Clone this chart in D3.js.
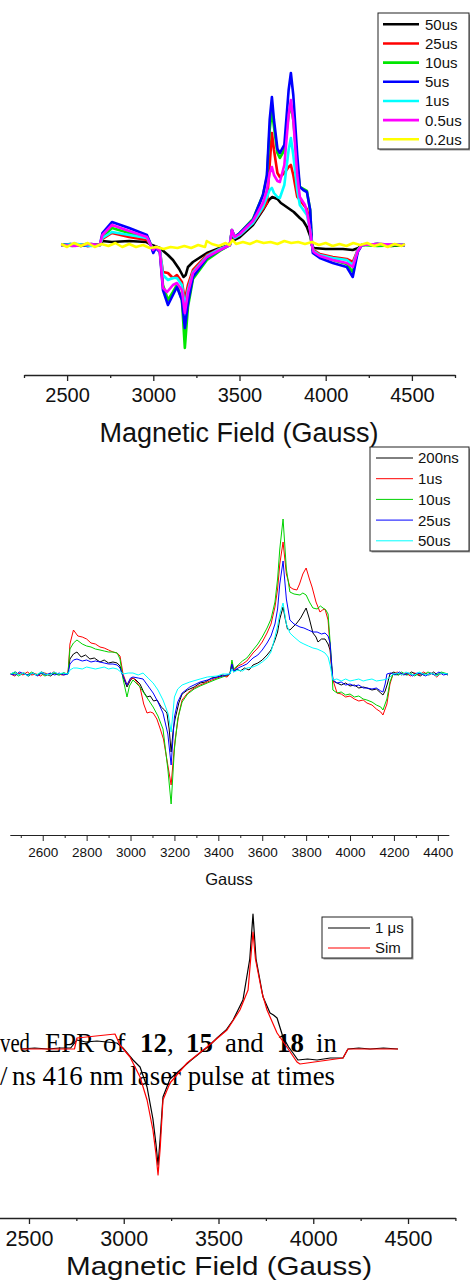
<!DOCTYPE html>
<html>
<head>
<meta charset="utf-8">
<script src="https://cdn.jsdelivr.net/npm/d3@7"></script>
<style>
  body { margin: 0; background: #fff; }
  svg { display: block; }
  text { font-family: "Liberation Sans", Arial, sans-serif; }
</style>
</head>
<body>
<div id="fig"></div>
<script>
// ---------------- data: panel 1 (Magnetic Field, 7 delays) ----------------
const p1Labels = ["50us", "25us", "10us", "5us", "1us", "0.5us", "0.2us"];
const p1Colors = ["#000000", "#ff0000", "#00e600", "#0000ff", "#00ffff", "#ff00ff", "#ffff00"];
const p1Ticks = [2500, 3000, 3500, 4000, 4500];

const p1_50us = [[2465,0],[2520,1],[2580,-1],[2640,1],[2690,0],[2705,4],[2760,3],[2860,4],[2960,3],[2992,0],[3038,-3],[3085,-10],[3114,-15],[3150,-24],[3175,-32],[3188,-30],[3201,-22],[3230,-17],[3311,-8],[3386,-3],[3444,0],[3456,12],[3470,5],[3502,8],[3578,20],[3636,35],[3670,45],[3690,48],[3720,46],[3740,42],[3757,40],[3790,36],[3815,33],[3850,27],[3870,24],[3891,18],[3912,8],[3920,0],[3930,-3],[4000,-4],[4100,-4],[4157,-5],[4190,-3],[4209,0],[4300,1],[4380,-1],[4460,0]];
const p1_25us = [[2465,0],[2540,1],[2620,-1],[2690,0],[2705,6],[2760,12],[2860,8],[2963,5],[2985,0],[2998,-5],[3015,-2],[3038,-6],[3056,-27],[3085,-28],[3114,-33],[3137,-30],[3166,-37],[3183,-55],[3201,-40],[3230,-25],[3311,-10],[3386,-4],[3444,0],[3456,14],[3472,7],[3502,10],[3578,22],[3636,36],[3659,42],[3675,80],[3688,112],[3700,95],[3720,72],[3734,68],[3760,72],[3785,78],[3798,80],[3812,70],[3835,48],[3850,45],[3891,36],[3910,20],[3920,0],[3930,-5],[3966,-9],[4041,-12],[4122,-14],[4157,-17],[4186,-5],[4209,0],[4300,1],[4460,0]];
const p1_10us = [[2465,0],[2530,-1],[2610,1],[2690,0],[2705,8],[2760,17],[2860,12],[2963,8],[2985,1],[2998,-6],[3015,-2],[3038,-6],[3056,-40],[3085,-55],[3114,-47],[3137,-40],[3166,-55],[3183,-103],[3201,-62],[3230,-34],[3311,-15],[3386,-6],[3444,0],[3456,15],[3472,8],[3502,12],[3578,26],[3636,50],[3659,68],[3675,115],[3688,135],[3700,118],[3720,92],[3734,87],[3760,95],[3785,130],[3798,140],[3812,125],[3835,80],[3850,58],[3891,54],[3910,35],[3920,2],[3930,-8],[3966,-11],[4041,-15],[4122,-19],[4157,-27],[4186,-6],[4209,0],[4300,-1],[4460,0]];
const p1_5us = [[2465,0],[2550,1],[2620,-1],[2690,0],[2705,12],[2760,23],[2860,17],[2963,10],[2980,3],[2992,-4],[3000,-8],[3015,-3],[3038,-7],[3056,-45],[3085,-60],[3114,-50],[3137,-42],[3166,-55],[3183,-83],[3201,-58],[3230,-32],[3311,-13],[3386,-5],[3444,0],[3456,15],[3472,8],[3502,12],[3578,25],[3636,50],[3659,70],[3675,125],[3688,148],[3700,125],[3720,96],[3734,92],[3760,100],[3785,155],[3798,172],[3812,150],[3835,90],[3850,58],[3870,55],[3891,53],[3910,35],[3920,2],[3925,-8],[3966,-13],[4041,-18],[4122,-22],[4157,-32],[4186,-7],[4209,0],[4300,1],[4460,0]];
const p1_1us = [[2465,0],[2560,1],[2640,-1],[2690,0],[2705,7],[2760,13],[2860,10],[2963,7],[2985,0],[2998,-4],[3015,-2],[3038,-5],[3056,-30],[3085,-35],[3114,-33],[3137,-33],[3166,-40],[3183,-62],[3201,-45],[3230,-27],[3311,-11],[3386,-4],[3444,0],[3456,14],[3472,7],[3502,10],[3578,22],[3636,38],[3659,48],[3675,55],[3688,57],[3700,52],[3720,48],[3734,47],[3760,60],[3785,95],[3798,107],[3812,90],[3835,55],[3850,40],[3891,30],[3910,15],[3920,0],[3930,-6],[3966,-10],[4041,-13],[4122,-15],[4157,-20],[4186,-5],[4209,0],[4300,1],[4460,0]];
const p1_05us = [[2465,0],[2545,-1],[2630,1],[2690,0],[2705,10],[2760,20],[2860,14],[2963,8],[2985,0],[2998,-5],[3015,-2],[3038,-6],[3056,-43],[3080,-47],[3114,-40],[3137,-38],[3166,-45],[3183,-68],[3201,-48],[3230,-28],[3311,-12],[3386,-5],[3444,0],[3456,15],[3472,8],[3502,11],[3578,24],[3636,42],[3659,55],[3675,72],[3688,78],[3700,70],[3720,64],[3734,63],[3760,80],[3785,130],[3798,145],[3812,125],[3835,70],[3850,48],[3880,40],[3895,30],[3912,12],[3920,0],[3930,-7],[3966,-11],[4041,-15],[4122,-18],[4157,-22],[4186,-6],[4209,0],[4300,1],[4460,0]];
const p1_02us = [[2465,1],[2500,-2],[2540,2],[2580,-1],[2620,2],[2660,-2],[2700,1],[2740,-1],[2780,2],[2820,-2],[2860,1],[2900,-2],[2940,0],[2980,-3],[3020,-2],[3060,-4],[3100,-2],[3140,-3],[3180,-1],[3220,-3],[3260,0],[3300,-2],[3310,4],[3340,1],[3380,-1],[3420,2],[3440,0],[3460,5],[3480,1],[3520,3],[3560,1],[3600,4],[3640,2],[3680,3],[3720,1],[3760,4],[3800,2],[3840,3],[3880,1],[3920,3],[3960,0],[4000,2],[4040,-1],[4080,1],[4120,-1],[4160,2],[4200,0],[4240,2],[4280,-1],[4320,1],[4360,-2],[4400,1],[4440,-1],[4460,1]];

// ---------------- data: panel 2 (Gauss, 5 delays) ----------------
const p2Labels = ["200ns", "1us", "10us", "25us", "50us"];
const p2Colors = ["#000000", "#ff0000", "#00d200", "#0000ff", "#00ffff"];
const p2Ticks = [2600, 2800, 3000, 3200, 3400, 3600, 3800, 4000, 4200, 4400];

const p2_200ns = [[2454,0],[2475,2],[2495,-1],[2515,1],[2535,-2],[2555,1],[2575,-1],[2595,2],[2615,0],[2635,-2],[2655,1],[2675,-1],[2695,1],[2715,0],[2724,15],[2740,20],[2756,22],[2775,17],[2795,19],[2815,15],[2835,16],[2861,12],[2880,14],[2900,11],[2920,12],[2939,11],[2952,8],[2966,-3],[2984,-13],[3000,-6],[3011,-4],[3025,-6],[3043,-10],[3060,-18],[3075,-23],[3090,-22],[3105,-27],[3121,-26],[3140,-33],[3155,-36],[3166,-39],[3176,-55],[3185,-78],[3195,-55],[3203,-45],[3220,-29],[3235,-20],[3260,-16],[3290,-13],[3317,-9],[3340,-8],[3370,-4],[3394,-3],[3420,-1],[3440,-2],[3453,0],[3462,10],[3470,2],[3485,5],[3500,3],[3520,6],[3540,4],[3558,9],[3580,11],[3600,14],[3622,19],[3640,24],[3658,34],[3670,42],[3680,55],[3695,67],[3705,55],[3715,45],[3726,44],[3740,47],[3758,51],[3775,56],[3785,60],[3800,66],[3815,55],[3831,41],[3845,37],[3854,32],[3870,35],[3886,35],[3900,30],[3909,24],[3922,-7],[3941,-9],[3960,-11],[3980,-9],[4000,-12],[4020,-11],[4040,-14],[4060,-13],[4077,-14],[4100,-16],[4120,-15],[4140,-19],[4150,-21],[4160,-17],[4170,-10],[4182,0],[4200,2],[4220,-1],[4240,1],[4260,-1],[4280,2],[4300,0],[4320,-2],[4340,1],[4360,-1],[4380,2],[4400,-1],[4420,1],[4446,-1]];
const p2_1us = [[2454,0],[2472,-2],[2490,1],[2510,-1],[2530,2],[2550,-1],[2570,0],[2590,-2],[2610,1],[2630,-1],[2650,2],[2670,0],[2690,-1],[2715,0],[2724,30],[2740,44],[2760,38],[2780,37],[2800,35],[2820,31],[2840,30],[2861,27],[2880,26],[2900,24],[2920,22],[2939,21],[2952,18],[2966,0],[2984,-11],[3000,-5],[3011,-4],[3025,-7],[3043,-13],[3060,-30],[3075,-39],[3090,-38],[3103,-39],[3120,-45],[3134,-54],[3150,-65],[3166,-86],[3185,-111],[3195,-85],[3203,-66],[3220,-40],[3235,-26],[3260,-19],[3290,-14],[3317,-11],[3340,-9],[3370,-6],[3394,-4],[3420,-2],[3440,-3],[3453,0],[3462,12],[3470,4],[3490,8],[3510,10],[3530,13],[3558,21],[3580,26],[3600,32],[3622,41],[3640,50],[3658,67],[3670,85],[3680,110],[3695,132],[3710,100],[3726,87],[3740,85],[3758,84],[3770,90],[3785,100],[3800,106],[3815,95],[3827,87],[3845,72],[3863,62],[3875,64],[3886,65],[3900,54],[3915,10],[3922,-6],[3941,-19],[3960,-20],[3980,-23],[4000,-22],[4020,-25],[4040,-27],[4060,-26],[4077,-29],[4100,-31],[4120,-35],[4140,-38],[4150,-41],[4168,-30],[4182,-10],[4196,0],[4215,2],[4235,-1],[4255,1],[4275,-2],[4295,1],[4315,-1],[4335,2],[4355,-1],[4375,1],[4395,-3],[4415,1],[4446,0]];
const p2_10us = [[2454,0],[2470,1],[2490,-2],[2510,1],[2530,-1],[2550,2],[2570,-1],[2590,1],[2610,-2],[2630,0],[2650,1],[2670,-1],[2695,1],[2715,0],[2724,25],[2740,31],[2756,34],[2780,30],[2800,28],[2820,27],[2840,25],[2861,24],[2880,23],[2900,22],[2920,22],[2939,21],[2952,15],[2966,-5],[2984,-23],[2995,-12],[3011,-6],[3025,-9],[3043,-13],[3070,-22],[3103,-33],[3125,-42],[3148,-55],[3170,-95],[3185,-130],[3200,-75],[3215,-45],[3235,-28],[3260,-20],[3290,-15],[3317,-12],[3350,-9],[3394,-5],[3420,-3],[3453,0],[3462,14],[3470,5],[3490,9],[3510,13],[3530,16],[3558,24],[3580,30],[3600,37],[3622,46],[3640,55],[3658,72],[3670,95],[3680,125],[3695,155],[3710,105],[3726,82],[3745,80],[3772,79],[3785,81],[3800,79],[3815,72],[3831,66],[3850,65],[3865,68],[3877,66],[3890,64],[3900,60],[3915,15],[3922,-16],[3941,-19],[3960,-18],[3980,-21],[4000,-20],[4020,-23],[4040,-22],[4060,-25],[4077,-26],[4100,-28],[4120,-31],[4140,-33],[4150,-36],[4168,-25],[4182,-8],[4196,0],[4215,-1],[4235,2],[4255,-1],[4275,1],[4295,-2],[4315,1],[4335,-1],[4355,2],[4375,0],[4395,-1],[4415,2],[4446,0]];
const p2_25us = [[2454,0],[2475,-1],[2495,2],[2515,0],[2535,-1],[2555,1],[2575,-2],[2595,1],[2615,-1],[2635,1],[2655,-1],[2675,1],[2695,-1],[2715,0],[2724,10],[2740,14],[2756,15],[2780,13],[2800,14],[2820,12],[2840,13],[2861,12],[2880,11],[2900,10],[2920,10],[2939,9],[2952,6],[2966,-2],[2984,-11],[3000,-4],[3011,-3],[3035,-4],[3057,-5],[3080,-12],[3103,-19],[3125,-28],[3148,-39],[3170,-60],[3185,-91],[3200,-43],[3215,-28],[3235,-19],[3270,-13],[3317,-8],[3350,-6],[3394,-3],[3420,-2],[3453,0],[3462,10],[3470,3],[3490,6],[3510,8],[3530,10],[3558,16],[3580,19],[3600,24],[3622,31],[3640,38],[3658,50],[3670,65],[3680,90],[3695,113],[3710,75],[3726,54],[3745,50],[3772,47],[3790,46],[3810,44],[3831,42],[3850,42],[3870,40],[3886,41],[3900,38],[3909,31],[3922,-6],[3941,-9],[3960,-8],[3980,-11],[4000,-10],[4020,-12],[4040,-11],[4060,-14],[4077,-14],[4100,-15],[4120,-14],[4140,-17],[4150,-18],[4160,-10],[4168,0],[4185,1],[4205,-1],[4225,2],[4245,-1],[4265,1],[4285,-2],[4305,1],[4325,0],[4345,-2],[4365,1],[4385,-1],[4405,2],[4425,-1],[4446,0]];
const p2_50us = [[2454,0],[2472,2],[2492,-1],[2512,1],[2532,-2],[2552,1],[2572,-1],[2592,2],[2612,0],[2632,-1],[2652,2],[2672,0],[2692,1],[2715,0],[2724,4],[2740,6],[2756,6],[2780,5],[2800,7],[2820,6],[2840,5],[2861,6],[2880,7],[2900,5],[2920,6],[2939,5],[2966,0],[2990,1],[3011,1],[3035,-1],[3057,1],[3080,-4],[3103,-9],[3125,-16],[3148,-26],[3172,-40],[3185,-58],[3200,-23],[3215,-15],[3235,-11],[3270,-8],[3317,-5],[3350,-3],[3394,-2],[3420,0],[3453,0],[3462,5],[3470,2],[3490,4],[3510,3],[3530,6],[3558,7],[3580,9],[3600,12],[3622,16],[3640,22],[3658,37],[3670,48],[3680,60],[3695,71],[3710,50],[3726,41],[3745,37],[3772,32],[3790,30],[3810,28],[3831,26],[3850,25],[3870,23],[3886,21],[3900,17],[3909,9],[3922,-6],[3940,-5],[3960,-7],[3980,-5],[4000,-7],[4020,-6],[4040,-5],[4060,-7],[4077,-6],[4100,-5],[4120,-7],[4150,-6],[4170,-5],[4182,-3],[4196,0],[4215,1],[4235,-1],[4255,2],[4275,0],[4295,-1],[4315,2],[4335,0],[4355,-1],[4375,1],[4395,-2],[4415,1],[4446,0]];

// ---------------- data: panel 3 (1 us vs simulation) ----------------
const p3Labels = ["1 \u03bcs", "Sim"];
const p3Colors = ["#000000", "#ff0000"];
const p3Ticks = [2500, 3000, 3500, 4000, 4500];

const p3_1us = [[2460,0],[2530,1],[2600,0],[2660,1],[2720,1],[2753,9],[2800,7],[2859,8],[2910,7],[2964,6],[2996,1],[3049,-11],[3086,-18],[3123,-38],[3154,-70],[3170,-95],[3181,-116],[3192,-90],[3207,-48],[3244,-30],[3297,-21],[3350,-12],[3402,-4],[3450,3],[3492,11],[3540,19],[3577,29],[3629,49],[3665,90],[3682,135],[3698,90],[3735,52],[3772,36],[3790,34],[3809,31],[3840,12],[3870,2],[3893,-4],[3919,-11],[3970,-10],[4020,-11],[4090,-9],[4157,-9],[4183,0],[4240,1],[4300,0],[4370,1],[4447,0]];
const p3_sim = [[2460,0],[2740,0],[2753,11],[2954,15],[2980,4],[3033,-8],[3086,-28],[3123,-51],[3154,-81],[3170,-105],[3181,-126],[3192,-100],[3207,-51],[3244,-34],[3334,-14],[3439,2],[3545,19],[3613,39],[3656,59],[3672,95],[3682,117],[3695,90],[3730,56],[3756,39],[3809,16],[3861,2],[3914,-13],[3930,-15],[4157,-9],[4183,0],[4447,0]];

// ---------------- figure ----------------
const W = 470, H = 1281;
const svg = d3.select("#fig").append("svg")
    .attr("width", W)
    .attr("height", H);
svg.append("rect").attr("width", W).attr("height", H).attr("fill", "#fff");

function drawAxis(x, y0, ticks, minorStep, fontSize, pad, stroke) {
    const dom = x.domain();
    const minors = d3.range(Math.ceil(dom[0] / minorStep) * minorStep, dom[1] + 1, minorStep)
        .filter(v => !ticks.includes(v));

    // minor ticks, no labels
    const gm = svg.append("g")
        .attr("transform", `translate(0,${y0})`)
        .call(d3.axisBottom(x).tickValues(minors).tickSize(3).tickSizeOuter(0).tickFormat(""));
    gm.select(".domain").remove();
    gm.selectAll("line").attr("stroke", "#222").attr("stroke-width", stroke);

    const g = svg.append("g")
        .attr("transform", `translate(0,${y0})`)
        .call(d3.axisBottom(x).tickValues(ticks).tickSize(6).tickSizeOuter(0).tickPadding(pad).tickFormat(d3.format("d")));
    g.select(".domain").attr("stroke", "#222").attr("stroke-width", stroke);
    g.selectAll("line").attr("stroke", "#222").attr("stroke-width", stroke);
    g.selectAll("text")
        .attr("fill", "#111")
        .style("font-family", '"Liberation Sans", Arial, sans-serif')
        .style("font-size", fontSize + "px");
}

function drawLines(x, y, seriesList, colors, width) {
    const line = d3.line()
        .x(d => x(d[0]))
        .y(d => y(d[1]));
    seriesList.forEach((s, i) => {
        svg.append("path")
            .datum(s)
            .attr("fill", "none")
            .attr("stroke", colors[i])
            .attr("stroke-width", width)
            .attr("stroke-linejoin", "round")
            .attr("d", line);
    });
}

function drawLegend(box, labels, colors, opts) {
    svg.append("rect")
        .attr("x", box.x + 1.5).attr("y", box.y + 1.5)
        .attr("width", box.w).attr("height", box.h)
        .attr("fill", "#999");
    svg.append("rect")
        .attr("x", box.x).attr("y", box.y)
        .attr("width", box.w).attr("height", box.h)
        .attr("fill", "#fff")
        .attr("stroke", "#222")
        .attr("stroke-width", 1);
    labels.forEach((lab, i) => {
        const cy = opts.y0 + i * opts.step;
        svg.append("line")
            .attr("x1", opts.lx0).attr("x2", opts.lx1)
            .attr("y1", cy).attr("y2", cy)
            .attr("stroke", colors[i])
            .attr("stroke-width", opts.lw);
        svg.append("text")
            .attr("x", opts.tx).attr("y", cy)
            .attr("dy", "0.36em")
            .style("font-size", opts.fs + "px")
            .attr("fill", "#111")
            .text(lab);
    });
}

// ---- panel 1 ----
const x1 = d3.scaleLinear().domain([2250, 4750]).range([24, 455]);
const y1 = d3.scaleLinear().domain([-100, 100]).range([345, 145]);
drawLines(x1, y1, [p1_50us, p1_25us, p1_10us, p1_5us, p1_1us, p1_05us, p1_02us], p1Colors, 2.6);
drawAxis(x1, 375, p1Ticks, 250, 20, 7, 1.3);
svg.append("text")
    .attr("x", 239).attr("y", 442)
    .attr("text-anchor", "middle")
    .style("font-size", "27px")
    .attr("fill", "#111")
    .text("Magnetic Field (Gauss)");
drawLegend({x: 378, y: 13, w: 91, h: 136}, p1Labels, p1Colors,
    {y0: 24.3, step: 19.17, lx0: 383, lx1: 419, tx: 425, fs: 15, lw: 2.6});

// ---- panel 2 ----
const x2 = d3.scaleLinear().domain([2450, 4450]).range([9.8, 448.8]);
const y2 = d3.scaleLinear().domain([-100, 100]).range([774, 574]);
drawLines(x2, y2, [p2_200ns, p2_1us, p2_10us, p2_25us, p2_50us], p2Colors, 1);
drawAxis(x2, 835, p2Ticks, 100, 13.5, 6, 1);
svg.append("text")
    .attr("x", 229).attr("y", 885)
    .attr("text-anchor", "middle")
    .style("font-size", "16.5px")
    .attr("fill", "#111")
    .text("Gauss");
drawLegend({x: 370, y: 447, w: 99, h: 104}, p2Labels, p2Colors,
    {y0: 458, step: 20.7, lx0: 376, lx1: 413, tx: 418, fs: 15, lw: 1});

// ---- panel 3: caption text that overlaps the plot ----
const serif = '"Liberation Serif", "Times New Roman", serif';
const capLine1 = [["ved", 0, 400, 30], ["EPR", 45, 400, 0], ["of", 103, 400, 0],
    ["12", 140, 700, 0], [",", 167, 400, 0], ["15", 186, 700, 0], ["and", 225, 400, 0],
    ["18", 277, 700, 0], ["in", 316, 400, 0]];
capLine1.forEach(w => {
    const t = svg.append("text")
        .attr("x", w[1]).attr("y", 1052)
        .style("font-family", serif)
        .style("font-size", "26.8px")
        .style("font-weight", w[2])
        .attr("fill", "#000")
        .text(w[0]);
    // the first word is squeezed into the little room left of "EPR"
    if (w[3]) t.attr("textLength", w[3]).attr("lengthAdjust", "spacingAndGlyphs");
});
const capLine2 = [["/", 0], ["ns 416 nm laser pulse at times", 12]];
capLine2.forEach(w => {
    svg.append("text")
        .attr("x", w[1]).attr("y", 1085)
        .style("font-family", serif)
        .style("font-size", "26.8px")
        .attr("fill", "#000")
        .text(w[0]);
});

const x3 = d3.scaleLinear().domain([2250, 4750]).range([-18.4, 455.4]);
const y3 = d3.scaleLinear().domain([-100, 100]).range([1149, 949]);
drawLines(x3, y3, [p3_1us, p3_sim], p3Colors, 1.2);
drawAxis(x3, 1218, p3Ticks, 250, 21.5, 7, 1.3);
svg.append("text")
    .attr("x", 219).attr("y", 1275)
    .attr("text-anchor", "middle")
    .attr("textLength", 306)
    .attr("lengthAdjust", "spacingAndGlyphs")
    .style("font-size", "25px")
    .attr("fill", "#111")
    .text("Magnetic Field (Gauss)");
drawLegend({x: 322, y: 917, w: 90, h: 41}, p3Labels, p3Colors,
    {y0: 928, step: 20, lx0: 328, lx1: 370, tx: 375, fs: 15, lw: 1.2});
</script>
</body>
</html>
